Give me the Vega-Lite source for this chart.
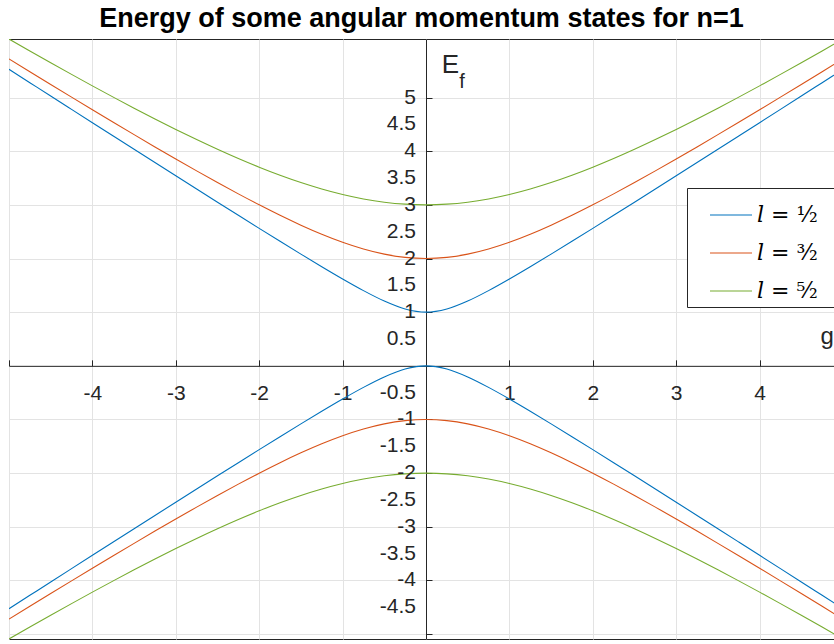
{
  "$schema": "https://vega.github.io/schema/vega-lite/v6.json",
  "width": 825,
  "height": 600,
  "autosize": {"type": "none"},
  "padding": {"left": 9, "top": 39, "right": 0, "bottom": 5},
  "background": "white",
  "title": {
    "text": "Energy of some angular momentum states for n=1",
    "font": "Liberation Sans",
    "fontSize": 27,
    "fontWeight": "bold",
    "color": "black",
    "anchor": "middle",
    "baseline": "alphabetic",
    "offset": 12,
    "dy": 27
  },
  "config": {
    "view": {"stroke": "#262626", "strokeWidth": 1},
    "axis": {
      "labelFont": "Liberation Sans",
      "labelFontSize": 21,
      "labelColor": "#262626",
      "domainColor": "#262626",
      "tickColor": "#262626",
      "gridColor": "#e3e3e3",
      "gridOpacity": 1,
      "tickSize": -6,
      "labelOverlap": false,
      "title": null
    }
  },
  "layer": [
    {
      "data": {
        "values": [
          {"g": -5, "l": "1/2", "up": 5.5249, "down": -4.5249},
          {"g": -4.75, "l": "1/2", "up": 5.2763, "down": -4.2763},
          {"g": -4.5, "l": "1/2", "up": 5.0277, "down": -4.0277},
          {"g": -4.25, "l": "1/2", "up": 4.7793, "down": -3.7793},
          {"g": -4, "l": "1/2", "up": 4.5311, "down": -3.5311},
          {"g": -3.75, "l": "1/2", "up": 4.2832, "down": -3.2832},
          {"g": -3.5, "l": "1/2", "up": 4.0355, "down": -3.0355},
          {"g": -3.25, "l": "1/2", "up": 3.7882, "down": -2.7882},
          {"g": -3, "l": "1/2", "up": 3.5414, "down": -2.5414},
          {"g": -2.75, "l": "1/2", "up": 3.2951, "down": -2.2951},
          {"g": -2.5, "l": "1/2", "up": 3.0495, "down": -2.0495},
          {"g": -2.25, "l": "1/2", "up": 2.8049, "down": -1.8049},
          {"g": -2, "l": "1/2", "up": 2.5616, "down": -1.5616},
          {"g": -1.75, "l": "1/2", "up": 2.32, "down": -1.32},
          {"g": -1.5, "l": "1/2", "up": 2.0811, "down": -1.0811},
          {"g": -1.25, "l": "1/2", "up": 1.8463, "down": -0.8463},
          {"g": -1, "l": "1/2", "up": 1.618, "down": -0.618},
          {"g": -0.75, "l": "1/2", "up": 1.4014, "down": -0.4014},
          {"g": -0.5, "l": "1/2", "up": 1.2071, "down": -0.2071},
          {"g": -0.25, "l": "1/2", "up": 1.059, "down": -0.059},
          {"g": 0, "l": "1/2", "up": 1, "down": 0},
          {"g": 0.25, "l": "1/2", "up": 1.059, "down": -0.059},
          {"g": 0.5, "l": "1/2", "up": 1.2071, "down": -0.2071},
          {"g": 0.75, "l": "1/2", "up": 1.4014, "down": -0.4014},
          {"g": 1, "l": "1/2", "up": 1.618, "down": -0.618},
          {"g": 1.25, "l": "1/2", "up": 1.8463, "down": -0.8463},
          {"g": 1.5, "l": "1/2", "up": 2.0811, "down": -1.0811},
          {"g": 1.75, "l": "1/2", "up": 2.32, "down": -1.32},
          {"g": 2, "l": "1/2", "up": 2.5616, "down": -1.5616},
          {"g": 2.25, "l": "1/2", "up": 2.8049, "down": -1.8049},
          {"g": 2.5, "l": "1/2", "up": 3.0495, "down": -2.0495},
          {"g": 2.75, "l": "1/2", "up": 3.2951, "down": -2.2951},
          {"g": 3, "l": "1/2", "up": 3.5414, "down": -2.5414},
          {"g": 3.25, "l": "1/2", "up": 3.7882, "down": -2.7882},
          {"g": 3.5, "l": "1/2", "up": 4.0355, "down": -3.0355},
          {"g": 3.75, "l": "1/2", "up": 4.2832, "down": -3.2832},
          {"g": 4, "l": "1/2", "up": 4.5311, "down": -3.5311},
          {"g": 4.25, "l": "1/2", "up": 4.7793, "down": -3.7793},
          {"g": 4.5, "l": "1/2", "up": 5.0277, "down": -4.0277},
          {"g": 4.75, "l": "1/2", "up": 5.2763, "down": -4.2763},
          {"g": 5, "l": "1/2", "up": 5.5249, "down": -4.5249},
          {"g": -5, "l": "3/2", "up": 5.7202, "down": -4.7202},
          {"g": -4.75, "l": "3/2", "up": 5.4812, "down": -4.4812},
          {"g": -4.5, "l": "3/2", "up": 5.2434, "down": -4.2434},
          {"g": -4.25, "l": "3/2", "up": 5.0069, "down": -4.0069},
          {"g": -4, "l": "3/2", "up": 4.772, "down": -3.772},
          {"g": -3.75, "l": "3/2", "up": 4.5389, "down": -3.5389},
          {"g": -3.5, "l": "3/2", "up": 4.3079, "down": -3.3079},
          {"g": -3.25, "l": "3/2", "up": 4.0795, "down": -3.0795},
          {"g": -3, "l": "3/2", "up": 3.8541, "down": -2.8541},
          {"g": -2.75, "l": "3/2", "up": 3.6325, "down": -2.6325},
          {"g": -2.5, "l": "3/2", "up": 3.4155, "down": -2.4155},
          {"g": -2.25, "l": "3/2", "up": 3.2042, "down": -2.2042},
          {"g": -2, "l": "3/2", "up": 3, "down": -2},
          {"g": -1.75, "l": "3/2", "up": 2.8049, "down": -1.8049},
          {"g": -1.5, "l": "3/2", "up": 2.6213, "down": -1.6213},
          {"g": -1.25, "l": "3/2", "up": 2.4526, "down": -1.4526},
          {"g": -1, "l": "3/2", "up": 2.3028, "down": -1.3028},
          {"g": -0.75, "l": "3/2", "up": 2.1771, "down": -1.1771},
          {"g": -0.5, "l": "3/2", "up": 2.0811, "down": -1.0811},
          {"g": -0.25, "l": "3/2", "up": 2.0207, "down": -1.0207},
          {"g": 0, "l": "3/2", "up": 2, "down": -1},
          {"g": 0.25, "l": "3/2", "up": 2.0207, "down": -1.0207},
          {"g": 0.5, "l": "3/2", "up": 2.0811, "down": -1.0811},
          {"g": 0.75, "l": "3/2", "up": 2.1771, "down": -1.1771},
          {"g": 1, "l": "3/2", "up": 2.3028, "down": -1.3028},
          {"g": 1.25, "l": "3/2", "up": 2.4526, "down": -1.4526},
          {"g": 1.5, "l": "3/2", "up": 2.6213, "down": -1.6213},
          {"g": 1.75, "l": "3/2", "up": 2.8049, "down": -1.8049},
          {"g": 2, "l": "3/2", "up": 3, "down": -2},
          {"g": 2.25, "l": "3/2", "up": 3.2042, "down": -2.2042},
          {"g": 2.5, "l": "3/2", "up": 3.4155, "down": -2.4155},
          {"g": 2.75, "l": "3/2", "up": 3.6325, "down": -2.6325},
          {"g": 3, "l": "3/2", "up": 3.8541, "down": -2.8541},
          {"g": 3.25, "l": "3/2", "up": 4.0795, "down": -3.0795},
          {"g": 3.5, "l": "3/2", "up": 4.3079, "down": -3.3079},
          {"g": 3.75, "l": "3/2", "up": 4.5389, "down": -3.5389},
          {"g": 4, "l": "3/2", "up": 4.772, "down": -3.772},
          {"g": 4.25, "l": "3/2", "up": 5.0069, "down": -4.0069},
          {"g": 4.5, "l": "3/2", "up": 5.2434, "down": -4.2434},
          {"g": 4.75, "l": "3/2", "up": 5.4812, "down": -4.4812},
          {"g": 5, "l": "3/2", "up": 5.7202, "down": -4.7202},
          {"g": -5, "l": "5/2", "up": 6.0902, "down": -5.0902},
          {"g": -4.75, "l": "5/2", "up": 5.8677, "down": -4.8677},
          {"g": -4.5, "l": "5/2", "up": 5.6478, "down": -4.6478},
          {"g": -4.25, "l": "5/2", "up": 5.4308, "down": -4.4308},
          {"g": -4, "l": "5/2", "up": 5.217, "down": -4.217},
          {"g": -3.75, "l": "5/2", "up": 5.0069, "down": -4.0069},
          {"g": -3.5, "l": "5/2", "up": 4.8012, "down": -3.8012},
          {"g": -3.25, "l": "5/2", "up": 4.6003, "down": -3.6003},
          {"g": -3, "l": "5/2", "up": 4.4051, "down": -3.4051},
          {"g": -2.75, "l": "5/2", "up": 4.2165, "down": -3.2165},
          {"g": -2.5, "l": "5/2", "up": 4.0355, "down": -3.0355},
          {"g": -2.25, "l": "5/2", "up": 3.8634, "down": -2.8634},
          {"g": -2, "l": "5/2", "up": 3.7016, "down": -2.7016},
          {"g": -1.75, "l": "5/2", "up": 3.5516, "down": -2.5516},
          {"g": -1.5, "l": "5/2", "up": 3.4155, "down": -2.4155},
          {"g": -1.25, "l": "5/2", "up": 3.2951, "down": -2.2951},
          {"g": -1, "l": "5/2", "up": 3.1926, "down": -2.1926},
          {"g": -0.75, "l": "5/2", "up": 3.1101, "down": -2.1101},
          {"g": -0.5, "l": "5/2", "up": 3.0495, "down": -2.0495},
          {"g": -0.25, "l": "5/2", "up": 3.0125, "down": -2.0125},
          {"g": 0, "l": "5/2", "up": 3, "down": -2},
          {"g": 0.25, "l": "5/2", "up": 3.0125, "down": -2.0125},
          {"g": 0.5, "l": "5/2", "up": 3.0495, "down": -2.0495},
          {"g": 0.75, "l": "5/2", "up": 3.1101, "down": -2.1101},
          {"g": 1, "l": "5/2", "up": 3.1926, "down": -2.1926},
          {"g": 1.25, "l": "5/2", "up": 3.2951, "down": -2.2951},
          {"g": 1.5, "l": "5/2", "up": 3.4155, "down": -2.4155},
          {"g": 1.75, "l": "5/2", "up": 3.5516, "down": -2.5516},
          {"g": 2, "l": "5/2", "up": 3.7016, "down": -2.7016},
          {"g": 2.25, "l": "5/2", "up": 3.8634, "down": -2.8634},
          {"g": 2.5, "l": "5/2", "up": 4.0355, "down": -3.0355},
          {"g": 2.75, "l": "5/2", "up": 4.2165, "down": -3.2165},
          {"g": 3, "l": "5/2", "up": 4.4051, "down": -3.4051},
          {"g": 3.25, "l": "5/2", "up": 4.6003, "down": -3.6003},
          {"g": 3.5, "l": "5/2", "up": 4.8012, "down": -3.8012},
          {"g": 3.75, "l": "5/2", "up": 5.0069, "down": -4.0069},
          {"g": 4, "l": "5/2", "up": 5.217, "down": -4.217},
          {"g": 4.25, "l": "5/2", "up": 5.4308, "down": -4.4308},
          {"g": 4.5, "l": "5/2", "up": 5.6478, "down": -4.6478},
          {"g": 4.75, "l": "5/2", "up": 5.8677, "down": -4.8677},
          {"g": 5, "l": "5/2", "up": 6.0902, "down": -5.0902}
        ]
      },
      "transform": [{"fold": ["up", "down"], "as": ["branch", "E"]}],
      "mark": {"type": "line", "strokeWidth": 1.1, "interpolate": "monotone", "clip": true},
      "encoding": {
        "x": {
          "field": "g",
          "type": "quantitative",
          "scale": {"domain": [-5, 4.892], "nice": false, "zero": false},
          "axis": {
            "orient": "bottom",
            "offset": -273.16,
            "values": [-5, -4, -3, -2, -1, 0, 1, 2, 3, 4],
            "labelExpr": "datum.value == 0 || datum.value == -5 ? '' : toString(datum.value)",
            "labelPadding": 23,
            "labelBaseline": "top",
            "labelFlush": false,
            "labelOverlap": false
          }
        },
        "y": {
          "field": "E",
          "type": "quantitative",
          "scale": {"domain": [-5.0902, 6.0902], "nice": false, "zero": false},
          "axis": {
            "orient": "left",
            "offset": -417,
            "values": [-5, -4.5, -4, -3.5, -3, -2.5, -2, -1.5, -1, -0.5, 0, 0.5, 1, 1.5, 2, 2.5, 3, 3.5, 4, 4.5, 5],
            "labels": false
          }
        },
        "color": {
          "field": "l",
          "type": "nominal",
          "scale": {"domain": ["1/2", "3/2", "5/2"], "range": ["#0072BD", "#D95319", "#77AC30"]},
          "legend": {
            "orient": "none",
            "legendX": 678,
            "legendY": 149,
            "title": null,
            "strokeColor": "#262626",
            "fillColor": "white",
            "padding": 5,
            "symbolType": "stroke",
            "symbolSize": 1764,
            "symbolStrokeWidth": 1.2,
            "symbolOffset": 17,
            "labelOffset": 4,
            "rowPadding": 5,
            "labelFont": "DejaVu Serif",
            "labelFontSize": 22,
            "labelColor": "black",
            "labelExpr": "'𝑙 = ' + (datum.label == '1/2' ? '¹⁄₂' : datum.label == '3/2' ? '³⁄₂' : '⁵⁄₂') + '\u2800'"
          }
        },
        "detail": {"field": "branch", "type": "nominal"}
      }
    },
    {
      "data": {
        "values": [
          {"v": 5, "lab": "5"}, {"v": 4.5, "lab": "4.5"}, {"v": 4, "lab": "4"}, {"v": 3.5, "lab": "3.5"},
          {"v": 3, "lab": "3"}, {"v": 2.5, "lab": "2.5"}, {"v": 2, "lab": "2"}, {"v": 1.5, "lab": "1.5"},
          {"v": 1, "lab": "1"}, {"v": 0.5, "lab": "0.5"}, {"v": -0.5, "lab": "-0.5"}, {"v": -1, "lab": "-1"},
          {"v": -1.5, "lab": "-1.5"}, {"v": -2, "lab": "-2"}, {"v": -2.5, "lab": "-2.5"}, {"v": -3, "lab": "-3"},
          {"v": -3.5, "lab": "-3.5"}, {"v": -4, "lab": "-4"}, {"v": -4.5, "lab": "-4.5"}
        ]
      },
      "mark": {"type": "text", "font": "Liberation Sans", "fontSize": 21, "color": "#262626", "align": "right", "baseline": "middle", "dx": -10},
      "encoding": {
        "x": {"datum": 0, "type": "quantitative"},
        "y": {"field": "v", "type": "quantitative"},
        "text": {"field": "lab", "type": "nominal"}
      }
    },
    {
      "data": {"values": [{}]},
      "mark": {"type": "text", "text": "E", "font": "Liberation Sans", "fontSize": 26, "color": "#262626", "align": "left", "baseline": "alphabetic"},
      "encoding": {
        "x": {"datum": 0.19, "type": "quantitative"},
        "y": {"datum": 5.456, "type": "quantitative"}
      }
    },
    {
      "data": {"values": [{}]},
      "mark": {"type": "text", "text": "f", "font": "Liberation Sans", "fontSize": 20, "color": "#262626", "align": "left", "baseline": "alphabetic"},
      "encoding": {
        "x": {"datum": 0.4, "type": "quantitative"},
        "y": {"datum": 5.18, "type": "quantitative"}
      }
    },
    {
      "data": {"values": [{}]},
      "mark": {"type": "text", "text": "g", "font": "Liberation Sans", "fontSize": 24, "color": "#262626", "align": "center", "baseline": "alphabetic"},
      "encoding": {
        "x": {"datum": 4.81, "type": "quantitative"},
        "y": {"datum": 0.407, "type": "quantitative"}
      }
    }
  ]
}
